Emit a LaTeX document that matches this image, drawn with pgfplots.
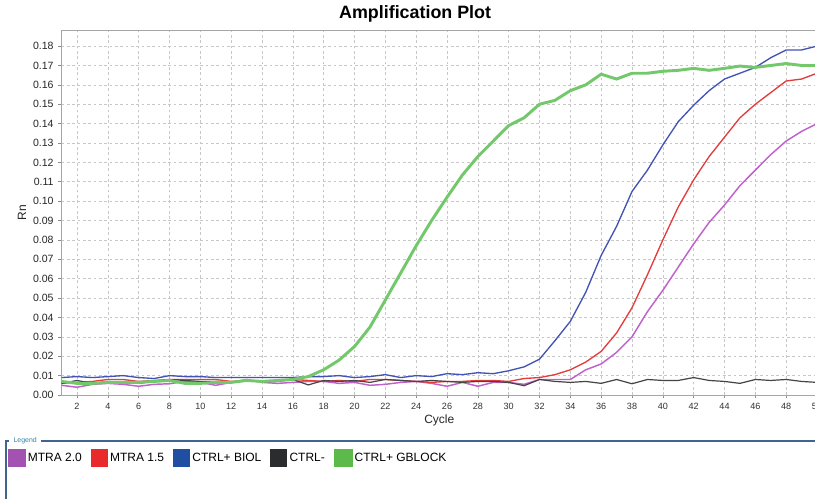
\documentclass[border=0pt]{standalone}
\usepackage{pgfplots}
\pgfplotsset{compat=1.18}
\usepackage{pgfplotstable}
\usepackage{fontspec}
\setmainfont{Liberation Sans}
\definecolor{cmag}{HTML}{C062CC}
\definecolor{cred}{HTML}{E23C3C}
\definecolor{cblue}{HTML}{4253B5}
\definecolor{cblack}{HTML}{454545}
\definecolor{cgreen}{HTML}{72C86A}
\definecolor{lmag}{HTML}{A452B2}
\definecolor{lred}{HTML}{E82A2A}
\definecolor{lblue}{HTML}{1F4EA2}
\definecolor{lblack}{HTML}{2A2C2E}
\definecolor{lgreen}{HTML}{5CBA4A}
\definecolor{frame}{HTML}{3E6490}
\pgfplotstableread{
c m r b k g
1 0.005 0.006 0.0090 0.006 0.0070
2 0.004 0.0065 0.0095 0.0075 0.0060
3 0.0055 0.007 0.0090 0.006 0.0060
4 0.006 0.008 0.0095 0.007 0.0065
5 0.0055 0.008 0.0100 0.0065 0.0065
6 0.0045 0.007 0.0090 0.006 0.0065
7 0.0055 0.0075 0.0085 0.007 0.0070
8 0.0058 0.008 0.0100 0.008 0.0075
9 0.007 0.008 0.0095 0.0075 0.0060
10 0.0065 0.008 0.0095 0.007 0.0060
11 0.005 0.008 0.0090 0.007 0.0065
12 0.0065 0.007 0.0090 0.0065 0.0065
13 0.008 0.0075 0.0090 0.0075 0.0075
14 0.0065 0.007 0.0090 0.007 0.0070
15 0.006 0.0075 0.0090 0.007 0.0075
16 0.0065 0.008 0.0090 0.008 0.0080
17 0.007 0.0075 0.0095 0.0052 0.0095
18 0.007 0.007 0.0095 0.0075 0.0130
19 0.006 0.0075 0.0100 0.007 0.0180
20 0.0065 0.007 0.0090 0.0075 0.0250
21 0.005 0.008 0.0095 0.0065 0.0350
22 0.0055 0.008 0.0105 0.008 0.0490
23 0.0065 0.0075 0.0090 0.0075 0.0630
24 0.007 0.007 0.0100 0.007 0.0770
25 0.006 0.0065 0.0095 0.0075 0.0900
26 0.0045 0.007 0.0110 0.007 0.1020
27 0.0065 0.007 0.0105 0.0065 0.1135
28 0.0045 0.0075 0.0115 0.007 0.1230
29 0.0065 0.0075 0.0110 0.007 0.1310
30 0.0065 0.007 0.0125 0.0065 0.1390
31 0.0055 0.0085 0.0145 0.0048 0.1430
32 0.008 0.009 0.0185 0.008 0.1500
33 0.008 0.0105 0.0280 0.007 0.1520
34 0.008 0.013 0.0380 0.0065 0.1570
35 0.013 0.017 0.0530 0.007 0.1600
36 0.016 0.0225 0.0720 0.006 0.1655
37 0.022 0.032 0.0870 0.008 0.1630
38 0.030 0.045 0.1050 0.0058 0.1660
39 0.043 0.062 0.1160 0.008 0.1660
40 0.054 0.080 0.1290 0.0075 0.1670
41 0.066 0.097 0.1410 0.0075 0.1675
42 0.078 0.111 0.1495 0.009 0.1685
43 0.089 0.123 0.1570 0.0075 0.1675
44 0.098 0.133 0.1630 0.007 0.1685
45 0.108 0.143 0.1660 0.006 0.1697
46 0.116 0.150 0.1690 0.008 0.1690
47 0.124 0.156 0.1740 0.0075 0.1700
48 0.131 0.162 0.1780 0.008 0.1710
49 0.136 0.163 0.1780 0.007 0.1700
50 0.140 0.166 0.1800 0.0065 0.1700
}\datatable
\begin{document}
\begin{tikzpicture}
\useasboundingbox[fill=white] (0,0) rectangle (611.25bp,374.25bp);
\begin{axis}[
  at={(46.2bp,78bp)}, anchor=south west,
  scale only axis, width=566.55bp, height=273.75bp,
  xmin=1, xmax=50, ymin=0, ymax=0.1883,
  xtick={2,4,...,50},
  ytick={0,0.01,0.02,0.03,0.04,0.05,0.06,0.07,0.08,0.09,0.10,0.11,0.12,0.13,0.14,0.15,0.16,0.17,0.18},
  yticklabel style={font=\fontsize{7.9bp}{9bp}\selectfont, text=black!85, /pgf/number format/.cd, fixed, fixed zerofill, precision=2, assume math mode=true},
  xticklabel style={font=\fontsize{6.8bp}{8bp}\selectfont, text=black!80, /pgf/number format/assume math mode=true},
  scaled y ticks=false,
  xtick pos=bottom, ytick pos=left,
  tick align=outside, major tick length=2.5bp,
  tick style={black!45, line width=0.5bp},
  axis line style={black!35, line width=0.6bp},
  grid=major,
  major grid style={black!22, line width=0.5bp, dash pattern=on 2bp off 2bp},
  title={Amplification Plot},
  title style={at={(axis description cs:0.468,1.044)}, anchor=center, yshift=-6pt, font=\bfseries\fontsize{13.4bp}{15bp}\selectfont},
  xlabel={Cycle},
  xlabel style={at={(axis description cs:0.5,-0.0685)}, anchor=center, font=\fontsize{9bp}{10bp}\selectfont, text=black!85},
  ylabel={Rn},
  ylabel style={at={(axis description cs:-0.0524,0.5)}, anchor=center, font=\fontsize{9bp}{10bp}\selectfont, text=black!85},
  legend columns=-1,
  legend style={draw=none, fill=none, at={(axis description cs:-0.071,-0.1726)}, anchor=west,
    font=\fontsize{9bp}{10bp}\selectfont, inner sep=0pt,
    /tikz/every odd column/.append style={column sep=0bp},
    /tikz/every even column/.append style={column sep=5bp},
    nodes={inner xsep=1.6bp, inner ysep=0pt}},
]
\addplot[cmag, line width=1.1bp, legend image code/.code={\fill[lmag] (0,-6bp) rectangle (12bp,6bp);}] table[x=c,y=m]{\datatable};
\addlegendentry{MTRA 2.0}
\addplot[cred, line width=1bp, legend image code/.code={\fill[lred] (0,-6bp) rectangle (12bp,6bp);}] table[x=c,y=r]{\datatable};
\addlegendentry{MTRA 1.5}
\addplot[cblue, line width=1bp, legend image code/.code={\fill[lblue] (0,-6bp) rectangle (12bp,6bp);}] table[x=c,y=b]{\datatable};
\addlegendentry{CTRL+ BIOL}
\addplot[cblack, line width=0.9bp, legend image code/.code={\fill[lblack] (0,-6bp) rectangle (12bp,6bp);}] table[x=c,y=k]{\datatable};
\addlegendentry{CTRL-}
\addplot[cgreen, line width=2.2bp, legend image code/.code={\fill[lgreen] (0,-6bp) rectangle (12bp,6bp);}] table[x=c,y=g]{\datatable};
\addlegendentry{CTRL+ GBLOCK}
\end{axis}
% legend frame
\draw[frame, line width=0.8bp] (4.5bp,0bp) -- (4.5bp,43.5bp) -- (7bp,43.5bp);
\draw[frame, line width=0.8bp] (31bp,43.5bp) -- (615bp,43.5bp);
\node[anchor=west, inner sep=0pt, text=frame!80!cyan, font=\fontsize{5.2bp}{6bp}\selectfont] at (10bp,43.8bp) {Legend};
\end{tikzpicture}
\end{document}
